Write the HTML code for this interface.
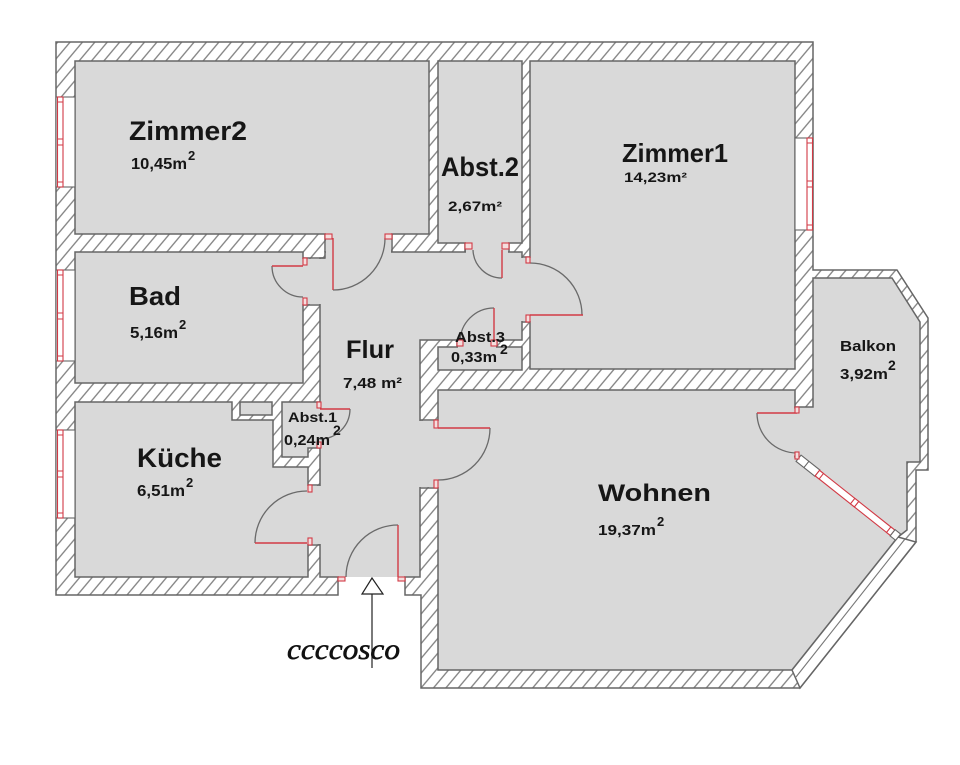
<!DOCTYPE html>
<html>
<head>
<meta charset="utf-8">
<style>
  html,body{margin:0;padding:0;background:#ffffff;}
  svg{display:block;}
  .t{font-family:"Liberation Sans",Arial,sans-serif;font-weight:bold;fill:#161616;}
</style>
</head>
<body>
<svg width="960" height="765" viewBox="0 0 960 765" xmlns="http://www.w3.org/2000/svg">
  <defs>
    <pattern id="h" width="9.5" height="9.5" patternUnits="userSpaceOnUse" patternTransform="rotate(40)">
      <rect x="0" y="0" width="9.5" height="9.5" fill="#ffffff"/>
      <line x1="4.75" y1="-1" x2="4.75" y2="10.5" stroke="#7a7a7a" stroke-width="1.25"/>
    </pattern>
  </defs>

  <!-- building footprint (walls hatched) -->
  <path d="M56,42 H813 V270 H897 L928,318 V470 H916 V542 L800,688 H421 V595 H405 V577 H338 V595 H56 Z"
        fill="url(#h)" stroke="#666" stroke-width="1.5"/>

  <!-- rooms -->
  <g fill="#d9d9d9" stroke="#666" stroke-width="1.5">
    <rect x="75" y="61" width="354" height="173"/>
    <rect x="438" y="61" width="84" height="182"/>
    <rect x="530" y="61" width="265" height="308"/>
    <rect x="75" y="252" width="228" height="131"/>
    <path d="M75,402 H232 V420 H273 V467 H308 V577 H75 Z"/>
    <rect x="240" y="402" width="32" height="13"/>
    <path d="M282,402 H320 V448 H308 V457 H282 Z"/>
    <path d="M325,252 H522 V340 H420 V577 H320 V258 H325 Z"/>
    <rect x="438" y="347" width="84" height="23"/>
    <path d="M438,390 H795 V457 L898,537 L792,670 H438 Z"/>
    <path d="M813,278 H892 L920,322 V462 H907 V530 L898,537 L797,457 H795 V407 H813 Z"/>
  </g>

  <!-- door openings -->
  <g fill="#d9d9d9">
    <rect x="326" y="232" width="65" height="21.5"/>
    <rect x="466" y="241.5" width="42" height="11.5"/>
    <rect x="521" y="258" width="10" height="63"/>
    <rect x="458" y="339" width="38" height="9"/>
    <rect x="302" y="259" width="20" height="45"/>
    <rect x="318.5" y="403" width="3" height="44"/>
    <rect x="307" y="486" width="14.5" height="58"/>
    <rect x="339" y="572" width="65" height="5"/>
    <rect x="419" y="421" width="20" height="66"/>
    <rect x="793.5" y="408.5" width="3.5" height="47"/>
  </g>
  <rect x="339" y="577" width="65" height="3" fill="#ffffff"/>

  <!-- wall ends at openings -->
  <g stroke="#666" stroke-width="1.5" fill="none">
    <path d="M325,234 V252 M392,234 V252"/>
    <path d="M465,243 V252 M509,243 V252"/>
    <path d="M522,257 H530 M522,322 H530"/>
    <path d="M457,340 V347 M497,340 V347"/>
    <path d="M303,258 H325 M303,305 H320"/>
    <path d="M308,485 H320 M308,545 H320"/>
    <path d="M420,420 H438 M420,488 H438"/>
  </g>

  <!-- Wohnen diagonal wall -->
  <path d="M898,537 L916,542 L800,688 L792,670 Z" fill="#ffffff" stroke="#666" stroke-width="1.5"/>
  <path d="M905,539 L796,677" stroke="#777" stroke-width="1.1" fill="none"/>

  <!-- windows -->
  <g stroke-width="1.1">
    <rect x="56" y="97" width="19" height="90" fill="#fff" stroke="#666"/>
    <rect x="57.5" y="97" width="5.5" height="90" fill="#fff" stroke="#d23a45"/>
    <path d="M57.5,102 H63 M57.5,139 H63 M57.5,145 H63 M57.5,182 H63" stroke="#d23a45"/>

    <rect x="56" y="270" width="19" height="91" fill="#fff" stroke="#666"/>
    <rect x="57.5" y="270" width="5.5" height="91" fill="#fff" stroke="#d23a45"/>
    <path d="M57.5,275 H63 M57.5,313 H63 M57.5,319 H63 M57.5,356 H63" stroke="#d23a45"/>

    <rect x="56" y="430" width="19" height="88" fill="#fff" stroke="#666"/>
    <rect x="57.5" y="430" width="5.5" height="88" fill="#fff" stroke="#d23a45"/>
    <path d="M57.5,435 H63 M57.5,471 H63 M57.5,477 H63 M57.5,513 H63" stroke="#d23a45"/>

    <rect x="795" y="138" width="18" height="92" fill="#fff" stroke="#666"/>
    <rect x="807" y="138" width="5.5" height="92" fill="#fff" stroke="#d23a45"/>
    <path d="M807,143 H812.5 M807,181 H812.5 M807,187 H812.5 M807,225 H812.5" stroke="#d23a45"/>
  </g>

  <!-- diagonal balcony window -->
  <g transform="translate(797,457) rotate(38.4)" stroke-width="1.1">
    <rect x="2" y="-4" width="24" height="8" fill="#fff" stroke="#666"/>
    <line x1="12" y1="-4" x2="12" y2="4" stroke="#666"/>
    <rect x="26" y="-3.5" width="96" height="7" fill="#fff" stroke="#d23a45"/>
    <rect x="26" y="-3.5" width="5" height="7" fill="#fff" stroke="#d23a45"/>
    <rect x="71" y="-3.5" width="5" height="7" fill="#fff" stroke="#d23a45"/>
    <rect x="117" y="-3.5" width="5" height="7" fill="#fff" stroke="#d23a45"/>
    <rect x="122" y="-4" width="7" height="8" fill="#fff" stroke="#666"/>
  </g>

  <!-- door arcs -->
  <g stroke="#6a6a6a" stroke-width="1.3" fill="none">
    <path d="M333,290 A52,52 0 0 0 385,238"/>
    <path d="M502,278 A29,29 0 0 1 473,250"/>
    <path d="M530,263 A52,52 0 0 1 582,315"/>
    <path d="M494,308 A34,34 0 0 0 460,342"/>
    <path d="M272,266 A31,31 0 0 0 303,297"/>
    <path d="M350,409 A30,30 0 0 1 320,439"/>
    <path d="M255,543 A52,52 0 0 1 307,491"/>
    <path d="M398,525 A52,52 0 0 0 346,577"/>
    <path d="M490,428 A52,52 0 0 1 438,480"/>
    <path d="M757,413 A40,40 0 0 0 797,453"/>
  </g>

  <!-- door leaves -->
  <g stroke="#d23a45" stroke-width="1.4" fill="none">
    <path d="M333,238 V290"/>
    <path d="M502,250 V278"/>
    <path d="M530,315 H583"/>
    <path d="M494,342 V308"/>
    <path d="M303,266 H272"/>
    <path d="M320,409 H350"/>
    <path d="M307,543 H255"/>
    <path d="M398,577 V525"/>
    <path d="M438,428 H490"/>
    <path d="M797,413 H757"/>
  </g>

  <!-- red jambs -->
  <g stroke="#d23a45" stroke-width="1.1" fill="#f4dede">
    <rect x="325" y="234" width="7" height="5"/>
    <rect x="385" y="234" width="7" height="5"/>
    <rect x="465" y="243" width="7" height="6"/>
    <rect x="502" y="243" width="7" height="6"/>
    <rect x="526" y="257" width="4" height="6"/>
    <rect x="526" y="315" width="4" height="7"/>
    <rect x="457" y="340" width="6" height="6"/>
    <rect x="491" y="340" width="6" height="6"/>
    <rect x="303" y="258" width="4" height="7"/>
    <rect x="303" y="298" width="4" height="7"/>
    <rect x="317" y="402" width="4" height="6"/>
    <rect x="317" y="442" width="4" height="6"/>
    <rect x="308" y="485" width="4" height="7"/>
    <rect x="308" y="538" width="4" height="7"/>
    <rect x="338" y="577" width="7" height="4"/>
    <rect x="398" y="577" width="7" height="4"/>
    <rect x="434" y="420" width="4" height="8"/>
    <rect x="434" y="480" width="4" height="8"/>
    <rect x="795" y="407" width="4" height="6"/>
    <rect x="795" y="452" width="4" height="7"/>
  </g>

  <!-- labels -->
  <g class="t">
    <text x="129" y="140" font-size="27" textLength="118" lengthAdjust="spacingAndGlyphs">Zimmer2</text>
    <text x="131" y="169" font-size="16" textLength="56" lengthAdjust="spacingAndGlyphs">10,45m</text>
    <text x="188" y="160" font-size="13">2</text>

    <text x="441" y="176" font-size="27" textLength="78" lengthAdjust="spacingAndGlyphs">Abst.2</text>
    <text x="448" y="211" font-size="14" textLength="54" lengthAdjust="spacingAndGlyphs">2,67m²</text>

    <text x="622" y="162" font-size="26" textLength="106" lengthAdjust="spacingAndGlyphs">Zimmer1</text>
    <text x="624" y="182" font-size="14" textLength="63" lengthAdjust="spacingAndGlyphs">14,23m²</text>

    <text x="129" y="305" font-size="26" textLength="52" lengthAdjust="spacingAndGlyphs">Bad</text>
    <text x="130" y="338" font-size="16" textLength="48" lengthAdjust="spacingAndGlyphs">5,16m</text>
    <text x="179" y="329" font-size="13">2</text>

    <text x="346" y="358" font-size="25" textLength="48" lengthAdjust="spacingAndGlyphs">Flur</text>
    <text x="343" y="388" font-size="15" textLength="59" lengthAdjust="spacingAndGlyphs">7,48 m²</text>

    <text x="455" y="342" font-size="15" textLength="50" lengthAdjust="spacingAndGlyphs">Abst.3</text>
    <text x="500" y="354" font-size="14">2</text>
    <text x="451" y="362" font-size="15" textLength="46" lengthAdjust="spacingAndGlyphs">0,33m</text>

    <text x="288" y="422" font-size="14" textLength="49" lengthAdjust="spacingAndGlyphs">Abst.1</text>
    <text x="284" y="445" font-size="15" textLength="46" lengthAdjust="spacingAndGlyphs">0,24m</text>
    <text x="333" y="435" font-size="14">2</text>

    <text x="137" y="467" font-size="27" textLength="85" lengthAdjust="spacingAndGlyphs">Küche</text>
    <text x="137" y="496" font-size="16" textLength="48" lengthAdjust="spacingAndGlyphs">6,51m</text>
    <text x="186" y="487" font-size="13">2</text>

    <text x="598" y="501" font-size="24" textLength="113" lengthAdjust="spacingAndGlyphs">Wohnen</text>
    <text x="598" y="535" font-size="15" textLength="58" lengthAdjust="spacingAndGlyphs">19,37m</text>
    <text x="657" y="526" font-size="13">2</text>

    <text x="840" y="351" font-size="15" textLength="56" lengthAdjust="spacingAndGlyphs">Balkon</text>
    <text x="840" y="379" font-size="15" textLength="48" lengthAdjust="spacingAndGlyphs">3,92m</text>
    <text x="888" y="370" font-size="14">2</text>
  </g>

  <!-- entrance arrow -->
  <polygon points="372,578 362,594 383,594" fill="#ffffff" stroke="#222" stroke-width="1.2"/>
  <line x1="372" y1="594" x2="372" y2="668" stroke="#222" stroke-width="1.2"/>
  <text x="287" y="659" font-family="Liberation Serif, serif" font-style="italic" font-size="30"
        textLength="113" lengthAdjust="spacingAndGlyphs" fill="#111" stroke="#111" stroke-width="0.6">ccccosco</text>
</svg>
</body>
</html>
